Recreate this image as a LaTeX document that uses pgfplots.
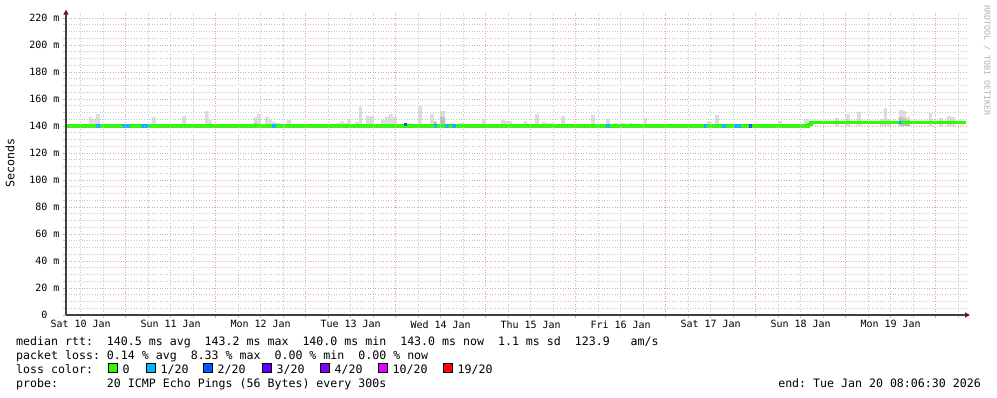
\documentclass[border=0pt]{standalone}
\usepackage{fontspec}
\setmainfont{DejaVu Sans Mono}
\usepackage{pgfplots}
\pgfplotsset{compat=1.18}
\usetikzlibrary{arrows.meta}
\definecolor{smoke}{HTML}{DDDDDD}
\definecolor{smokedark}{HTML}{BEBEBE}
\definecolor{loss0}{HTML}{26FF00}
\definecolor{loss1}{HTML}{00B8FF}
\definecolor{loss2}{HTML}{0059FF}
\definecolor{loss3}{HTML}{5E00FF}
\definecolor{loss4}{HTML}{7E00FF}
\definecolor{loss10}{HTML}{DD00FF}
\definecolor{loss19}{HTML}{FF0000}
\definecolor{mgrid}{HTML}{E2A0A0}
\definecolor{mingrid}{HTML}{C8C8C8}
\definecolor{arrowred}{HTML}{7F1010}
\newcommand{\legfont}{\fontsize{11.6}{14}\selectfont}
\begin{document}
\frenchspacing
\begin{tikzpicture}
\useasboundingbox (-66pt,-82pt) rectangle (931pt,315pt);
\begin{axis}[
  at={(0pt,0pt)}, anchor=south west,
  scale only axis, width=900pt, height=302.4pt,
  xmin=8.1, xmax=248.1, ymin=0, ymax=224,
  axis lines=left,
  axis on top,
  axis line style={line width=1.3pt, draw=black!75},
  x axis line style={shorten >=-4pt, -{Triangle[length=5pt,width=5pt,color=arrowred]}},
  y axis line style={shorten >=-3pt, -{Triangle[length=5pt,width=5pt,color=arrowred]}},
  xtick={24,48,...,240}, xticklabels={},
  minor xtick={12,18,30,36,42,54,60,66,78,84,90,102,108,114,126,132,138,150,156,162,174,180,186,198,204,210,222,228,234,246},
  extra x ticks={12,36,60,84,108,132,156,180,204,228},
  extra x tick labels={Sat 10 Jan,Sun 11 Jan,Mon 12 Jan,Tue 13 Jan,Wed 14 Jan,Thu 15 Jan,Fri 16 Jan,Sat 17 Jan,Sun 18 Jan,Mon 19 Jan},
  extra x tick style={grid=none, major tick length=0pt, xticklabel style={yshift=-2pt}},
  ytick={0,20,...,220},
  yticklabels={0\phantom{\ m},20 m,40 m,60 m,80 m,100 m,120 m,140 m,160 m,180 m,200 m,220 m},
  minor y tick num=3,
  grid=both,
  major grid style={draw=mgrid, line width=0.6pt, dash pattern=on 1pt off 1.6pt},
  minor grid style={draw=mingrid, line width=0.6pt, dash pattern=on 1pt off 1.6pt},
  tick align=outside, major tick length=3pt, minor tick length=3pt,
  major tick style={draw=mgrid, line width=0.8pt},
  minor tick style={draw=mingrid, line width=0.8pt},
  tick label style={font=\fontsize{10}{12}\selectfont},
]
% smoke (light)
\addplot[fill=smoke, draw=none, const plot] coordinates {
(8.1,140) (14.15,146.7) (15.03,145) (16.10,148.9) (17.17,140) (30.95,146.7) (32.10,140)
(38.23,141.5) (39.03,147.4) (40.10,140) (45.17,151.1) (46.15,144.4) (47.03,140)
(57.17,141.5) (58.15,146.7) (59.03,148.9) (60.10,140) (61.17,146.7) (62.23,144.4)
(62.95,143) (64.10,142.2) (65.17,140) (66.95,144.4) (68.10,140) (73.17,141.5) (74.95,140)
(80.10,142.2) (81.17,143.7) (82.23,142.2) (83.11,145.2) (84.10,140) (85.17,143)
(86.23,154.3) (87.03,140) (88.10,147.4) (90.23,140) (92.10,144.4) (93.17,146.7)
(94.23,148.9) (95.22,146.7) (96.29,140) (99.03,142.2) (100.10,140) (101.97,154.8)
(103.03,140) (105.17,148.9) (106.23,143.7) (107.03,140) (107.83,151.1) (109.17,140)
(110.23,142.2) (111.30,140) (113.09,142.2) (114.23,140) (116.02,141.5) (117.17,140)
(118.95,145.2) (120.02,140) (124.10,144.4) (125.17,143.7) (127.03,140) (130.15,143.7)
(131.11,140) (133.17,148.9) (134.23,140) (135.03,143) (136.10,142.2) (138.23,140)
(140.10,147.4) (141.17,140) (146.23,141.5) (147.11,140) (148.10,148.1) (149.17,140)
(152.10,145.2) (153.17,140) (154.23,142.2) (155.03,140) (155.83,142.2) (157.17,140)
(158.23,142.2) (159.03,141.5) (161.17,140) (162.23,146) (163.03,140) (179.03,143.7)
(180.10,141.5) (181.17,148.1) (182.23,140) (197.97,143.7) (199.03,140) (204.90,145.2)
(206.23,140) (213.17,146) (214.23,140) (216.10,148.9) (217.17,140) (219.03,150.4)
(220.10,140) (225.17,145.2) (226.23,153.3) (227.03,145.2) (228.10,140) (230.23,151.9)
(231.30,151.1) (232.10,146.7) (233.17,140) (238.23,149.6) (239.03,140) (240.90,146)
(241.97,140) (243.03,147.4) (244.10,146.7) (245.17,140) (248.1,140)
} -- cycle;
% smoke (dark, dense part of the distribution)
\addplot[fill=smokedark, draw=none, const plot] coordinates {
(8.1,140) (58.15,142.3) (59.03,140) (106.23,142.8) (107.03,140) (107.83,146.5) (109.17,140)
(154.23,141.8) (155.03,140) (230.23,146.5) (231.30,145.5) (232.10,144.5) (233.17,140) (248.1,140)
} -- cycle;
% median rtt, 0 loss
\addplot[loss0, line width=3.2pt, line cap=butt, line join=miter] coordinates {
(8.1,140) (206.05,140) (206.05,141) (206.77,141) (206.77,142.5) (248.1,142.5)};
% 1/20 loss
\addplot[loss1, line width=3.2pt, line cap=butt] coordinates {(16.10,140) (17.17,140)};
\addplot[loss1, line width=3.2pt, line cap=butt] coordinates {(23.03,140) (25.17,140)};
\addplot[loss1, line width=3.2pt, line cap=butt] coordinates {(28.10,140) (30.23,140)};
\addplot[loss1, line width=3.2pt, line cap=butt] coordinates {(63.03,140) (64.10,140)};
\addplot[loss1, line width=3.2pt, line cap=butt] coordinates {(106.23,140) (107.03,140)};
\addplot[loss1, line width=3.2pt, line cap=butt] coordinates {(109.17,140) (110.23,140)};
\addplot[loss1, line width=3.2pt, line cap=butt] coordinates {(111.03,140) (112.10,140)};
\addplot[loss1, line width=3.2pt, line cap=butt] coordinates {(152.10,140) (153.17,140)};
\addplot[loss1, line width=3.2pt, line cap=butt] coordinates {(178.23,140) (179.03,140)};
\addplot[loss1, line width=3.2pt, line cap=butt] coordinates {(183.03,140) (184.10,140)};
\addplot[loss1, line width=3.2pt, line cap=butt] coordinates {(186.23,140) (188.10,140)};
\addplot[loss1, line width=3.2pt, line cap=butt] coordinates {(230.23,142.5) (231.03,142.5)};
% 2/20 loss
\addplot[loss2, line width=3.2pt, line cap=butt] coordinates {(98.23,141) (99.03,141)};
\addplot[loss2, line width=3.2pt, line cap=butt] coordinates {(190.23,140) (191.03,140)};
\end{axis}
% labels and legend
\node[rotate=90, font=\legfont] at (-56pt,152pt) {Seconds};
\node[rotate=-90, anchor=west, inner sep=0pt, font=\fontsize{8.3}{10}\selectfont, text=black!30] at (921pt,310pt) {RRDTOOL / TOBI OETIKER};
\node[anchor=base west, inner sep=0pt, font=\legfont] at (-50pt,-30.5pt)
 {median rtt:\ \ 140.5 ms avg\ \ 143.2 ms max\ \ 140.0 ms min\ \ 143.0 ms now\ \ 1.1 ms sd\ \ 123.9\ \ \ am/s};
\node[anchor=base west, inner sep=0pt, font=\legfont] at (-50pt,-44.3pt)
 {packet loss: 0.14 \% avg\ \ 8.33 \% max\ \ 0.00 \% min\ \ 0.00 \% now};
\node[anchor=base west, inner sep=0pt, font=\legfont] at (-50pt,-58.3pt) {loss color:};
\node[anchor=base west, inner sep=0pt, font=\legfont] at (-50pt,-72.3pt)
 {probe:\ \ \ \ \ \ \ 20 ICMP Echo Pings (56 Bytes) every 300s};
\node[anchor=base east, inner sep=0pt, font=\legfont] at (915pt,-72.3pt)
 {end: Tue Jan 20 08:06:30 2026};
\foreach \xx/\cc/\tt in {42/loss0/0, 80/loss1/1\slash 20, 137/loss2/2\slash 20, 196/loss3/3\slash 20, 254/loss4/4\slash 20, 312/loss10/10\slash 20, 377/loss19/19\slash 20}{
  \filldraw[fill=\cc, draw=black, line width=0.9pt] (\xx pt,-57.8pt) rectangle ++(9pt,9pt);
  \node[anchor=base west, inner sep=0pt, font=\legfont] at (\xx pt+14.5pt,-58.3pt) {\tt};
}
\end{tikzpicture}
\end{document}
